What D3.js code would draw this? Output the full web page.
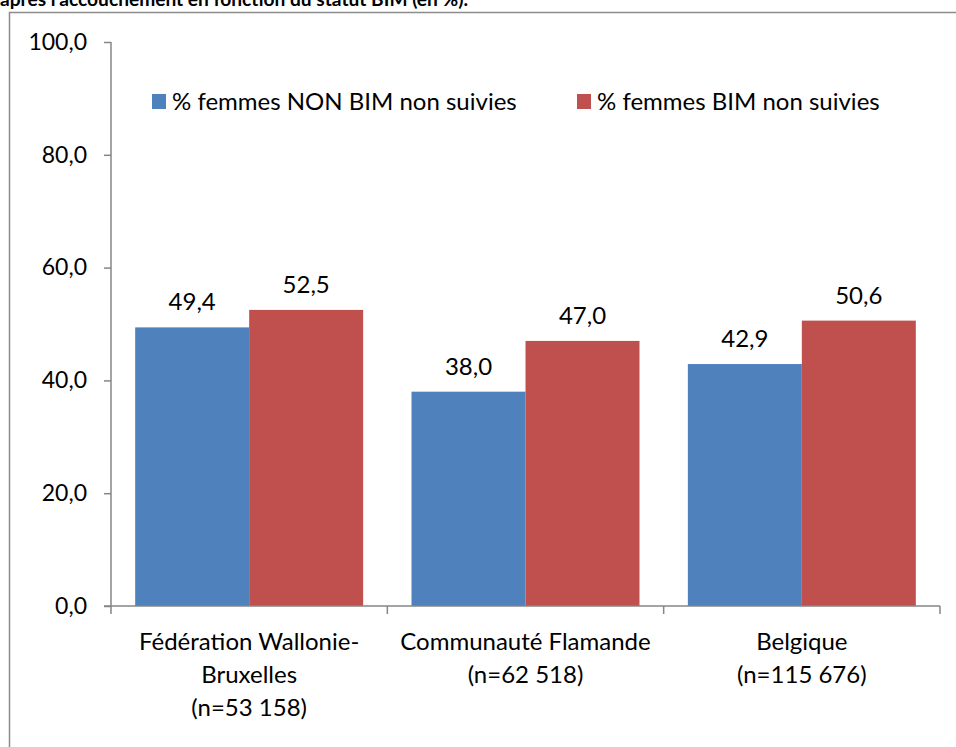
<!DOCTYPE html>
<html>
<head>
<meta charset="utf-8">
<script src="https://cdn.jsdelivr.net/npm/d3@7"></script>
<style>
  html, body { margin: 0; padding: 0; background: #fff; }
  svg { display: block; }
  text { font-family: Lato, "Open Sans", sans-serif; fill: #000; }
</style>
</head>
<body>
<svg id="chart" width="956" height="747"></svg>
<script>
// Data
const categories = [
  ["Fédération Wallonie-", "Bruxelles", "(n=53 158)"],
  ["Communauté Flamande", "(n=62 518)"],
  ["Belgique", "(n=115 676)"]
];
const seriesNames = ["% femmes NON BIM non suivies", "% femmes BIM non suivies"];
const nonBim = [49.4, 38.0, 42.9];
const bim = [52.5, 47.0, 50.6];
const yTicks = [0, 20, 40, 60, 80, 100];
const colors = ["#4F81BD", "#C0504D"];

const svg = d3.select("#chart");
const fmt = v => v.toFixed(1).replace(".", ",");

// Title (runs above the frame)
svg.append("text")
  .attr("x", 0).attr("y", 6)
  .attr("font-weight", "bold")
  .attr("font-size", 19)
  .attr("textLength", 468)
  .attr("lengthAdjust", "spacingAndGlyphs")
  .text("après l'accouchement en fonction du statut BIM (en %).");

// Chart frame
svg.append("rect")
  .attr("x", 9.5).attr("y", 12.5)
  .attr("width", 960).attr("height", 760)
  .attr("fill", "#fff")
  .attr("stroke", "#8c8c8c").attr("stroke-width", 1.5);

const plot = { left: 111, right: 940, top: 42, bottom: 606 };

const y = d3.scaleLinear().domain([0, 100]).range([plot.bottom, plot.top]);
const x = d3.scaleBand().domain(d3.range(categories.length)).range([plot.left, plot.right]).padding(0);
const groupFrac = 0.825;
const inner = d3.scaleBand().domain([0, 1])
  .range([0, x.bandwidth() * groupFrac]).padding(0);
const groupOffset = x.bandwidth() * (1 - groupFrac) / 2;

const axisColor = "#868686";
const fontSize = 24;

// Bars and value labels
const values = [nonBim, bim];
values.forEach((vals, s) => {
  svg.append("g").selectAll("rect")
    .data(vals)
    .join("rect")
    .attr("x", (d, i) => x(i) + groupOffset + inner(s))
    .attr("y", d => y(d))
    .attr("width", inner.bandwidth())
    .attr("height", d => y(0) - y(d))
    .attr("fill", colors[s]);

  svg.append("g").selectAll("text")
    .data(vals)
    .join("text")
    .attr("x", (d, i) => x(i) + groupOffset + inner(s) + inner.bandwidth() / 2)
    .attr("y", d => y(d) - 17)
    .attr("text-anchor", "middle")
    .attr("font-size", fontSize)
    .text(d => fmt(d));
});

// Y axis
const yAxis = d3.axisLeft(y).tickValues(yTicks).tickSize(7).tickPadding(17)
  .tickFormat(fmt);
const gy = svg.append("g").attr("transform", `translate(${plot.left},0)`).call(yAxis);
gy.select(".domain").attr("stroke", axisColor).attr("stroke-width", 1.5).attr("d", `M0,${plot.top}V${plot.bottom}`);
gy.selectAll(".tick line").attr("stroke", axisColor).attr("stroke-width", 1.5);
gy.selectAll(".tick text").attr("font-size", 23).attr("font-family", "Lato, 'Open Sans', sans-serif").attr("fill", "#000");

// X axis: baseline with category separators
const gx = svg.append("g");
gx.append("line")
  .attr("x1", plot.left - 7).attr("x2", plot.right)
  .attr("y1", y(0)).attr("y2", y(0))
  .attr("stroke", axisColor).attr("stroke-width", 1.5);
const sepX = d3.range(categories.length + 1).map(i => i < categories.length ? x(i) : x(i - 1) + x.bandwidth());
gx.selectAll("line.sep")
  .data(sepX)
  .join("line")
  .attr("class", "sep")
  .attr("x1", d => d).attr("x2", d => d)
  .attr("y1", y(0)).attr("y2", y(0) + 8)
  .attr("stroke", axisColor).attr("stroke-width", 1.5);

// Category labels
categories.forEach((lines, i) => {
  const t = svg.append("text")
    .attr("text-anchor", "middle")
    .attr("font-size", fontSize);
  lines.forEach((ln, k) => {
    t.append("tspan")
      .attr("x", x(i) + x.bandwidth() / 2)
      .attr("y", 650 + k * 33)
      .text(ln);
  });
});

// Legend
const legendItems = [
  { name: seriesNames[0], color: colors[0], x: 152 },
  { name: seriesNames[1], color: colors[1], x: 577 }
];
const lg = svg.append("g");
legendItems.forEach(it => {
  lg.append("rect").attr("x", it.x).attr("y", 94).attr("width", 14).attr("height", 15).attr("fill", it.color);
  lg.append("text").attr("x", it.x + 20).attr("y", 110).attr("font-size", fontSize).text(it.name);
});
</script>
</body>
</html>
